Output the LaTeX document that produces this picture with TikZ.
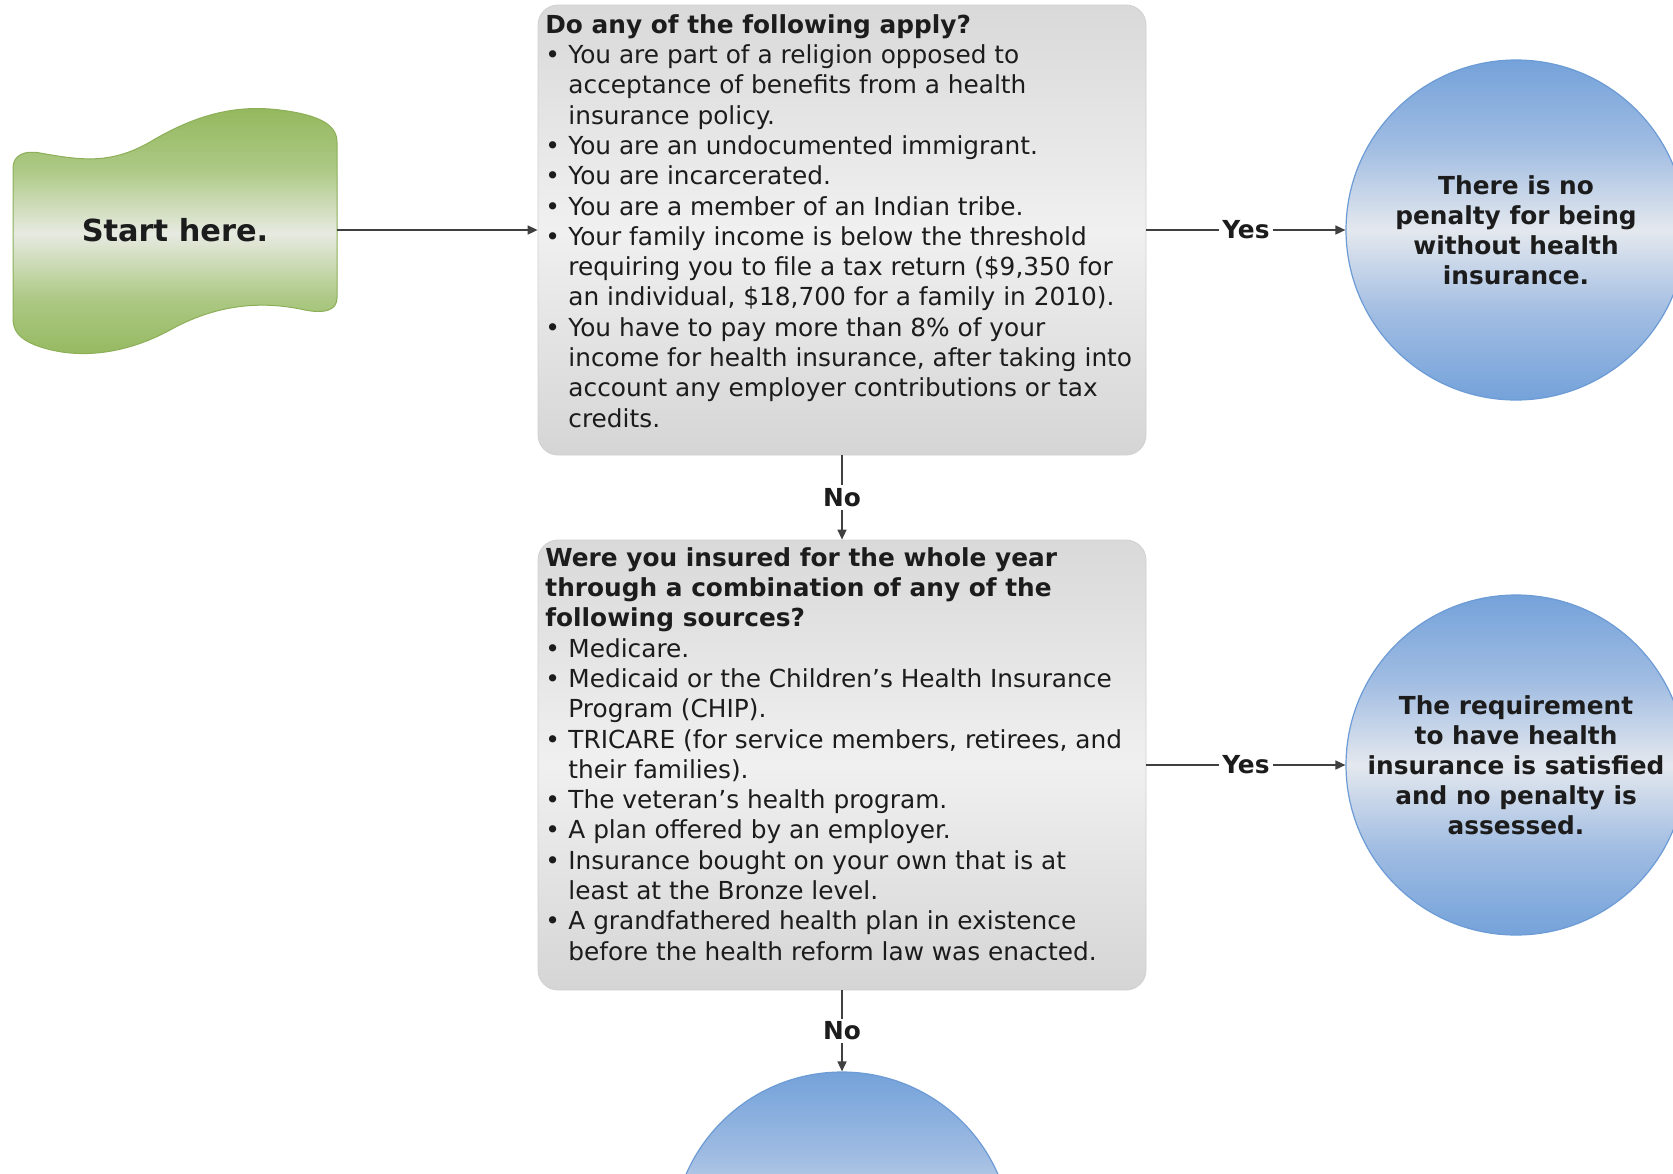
\documentclass[tikz,border=0pt]{standalone}
\usepackage{fontspec}
\setmainfont{DejaVu Sans}
\usetikzlibrary{arrows.meta}
\definecolor{gtop}{HTML}{93B75C}
\definecolor{gq}{HTML}{ADC985}
\definecolor{gmid}{HTML}{E7EAE1}
\definecolor{gborder}{HTML}{8CAF58}
\definecolor{boxtop}{HTML}{D9D9D9}
\definecolor{boxmid}{HTML}{F0F0F0}
\definecolor{boxbot}{HTML}{D5D5D5}
\definecolor{boxborder}{HTML}{D0D0D0}
\definecolor{btop}{HTML}{74A2DA}
\definecolor{bq}{HTML}{A0BCE2}
\definecolor{bmid}{HTML}{E4E8EE}
\definecolor{bborder}{HTML}{6C9BD5}
\definecolor{linec}{HTML}{404040}
\definecolor{textc}{HTML}{1C1C1C}
\pgfdeclareverticalshading{blueshade}{100bp}{color(0bp)=(btop); color(25bp)=(btop); color(37.5bp)=(bq); color(50bp)=(bmid); color(62.5bp)=(bq); color(75bp)=(btop); color(100bp)=(btop)}
\pgfdeclareverticalshading{greenshade}{100bp}{color(0bp)=(gtop); color(25bp)=(gtop); color(37.5bp)=(gq); color(50bp)=(gmid); color(62.5bp)=(gq); color(75bp)=(gtop); color(100bp)=(gtop)}
\newcommand{\bl}{\makebox[11.5pt][l]{\textbullet}}
\newcommand{\ct}{\hspace*{11.5pt}}
\begin{document}
\begin{tikzpicture}[x=0.5pt,y=-0.5pt,
  bodyfont/.style={font=\fontsize{12.4pt}{15.15pt}\selectfont},
  boldfont/.style={font=\bfseries\fontsize{12.4pt}{15pt}\selectfont},
  graybox/.style={rectangle, rounded corners=10pt, minimum width=304pt,
    draw=boxborder, line width=0.4pt, top color=boxtop, bottom color=boxbot, middle color=boxmid},
  boxtext/.style={bodyfont, text=textc, align=left, anchor=north west, inner sep=0pt},
  circ/.style={circle, minimum size=170pt, inner sep=0pt, draw=bborder, line width=0.6pt,
    shading=blueshade, shading angle=0, align=center, boldfont, text=textc},
  conn/.style={draw=linec, line width=0.8pt, -{Triangle[length=5pt,width=4.5pt]}},
  lbl/.style={boldfont, text=textc, fill=white, inner sep=1.5pt}]
\useasboundingbox (0,0) rectangle (1673,1173);
\clip (0,0) rectangle (1673,1173);

% start wave shape
\draw[draw=gborder, line width=0.5pt, shading=greenshade, shading angle=0]
  (13,168) .. controls (13,155) and (25,150) .. (40,153)
  .. controls (80,160) and (110,165) .. (150,142)
  .. controls (200,112) and (240,105) .. (280,110)
  .. controls (320,115) and (337,125) .. (337,142)
  -- (337,298)
  .. controls (337,310) and (325,314) .. (305,310)
  .. controls (260,300) and (215,305) .. (170,330)
  .. controls (130,352) and (80,362) .. (35,345)
  .. controls (18,338) and (13,330) .. (13,318) -- cycle;
\node[minimum width=162pt, minimum height=60pt, inner sep=0pt, text=textc,
  font=\bfseries\fontsize{15.2pt}{18pt}\selectfont] (start) at (175,230) {Start here.};

% boxes
\node[graybox, minimum height=225pt] (q1) at (842,230) {};
\node[boxtext] (q1t) at (545,14) {\textbf{Do any of the following apply?}\\
\bl You are part of a religion opposed to\\
\ct acceptance of benefits from a health\\
\ct insurance policy.\\
\bl You are an undocumented immigrant.\\
\bl You are incarcerated.\\
\bl You are a member of an Indian tribe.\\
\bl Your family income is below the threshold\\
\ct requiring you to file a tax return (\$9,350 for\\
\ct an individual, \$18,700 for a family in 2010).\\
\bl You have to pay more than 8\% of your\\
\ct income for health insurance, after taking into\\
\ct account any employer contributions or tax\\
\ct credits.};

\node[graybox, minimum height=225pt] (q2) at (842,765) {};
\node[boxtext] (q2t) at (545,547) {\textbf{Were you insured for the whole year}\\
\textbf{through a combination of any of the}\\
\textbf{following sources?}\\
\bl Medicare.\\
\bl Medicaid or the Children’s Health Insurance\\
\ct Program (CHIP).\\
\bl TRICARE (for service members, retirees, and\\
\ct their families).\\
\bl The veteran’s health program.\\
\bl A plan offered by an employer.\\
\bl Insurance bought on your own that is at\\
\ct least at the Bronze level.\\
\bl A grandfathered health plan in existence\\
\ct before the health reform law was enacted.};

% circles
\node[circ] (c1) at (1516,230) {There is no\\penalty for being\\without health\\insurance.};
\node[circ] (c2) at (1516,765) {The requirement\\to have health\\insurance is satisfied\\and no penalty is\\assessed.};
\node[circ] (c3) at (842,1242) {};

% connectors
\draw[conn] (start.east) -- (q1.west);
\draw[conn] (q1.east) -- node[lbl] {Yes} (c1.west);
\draw[conn] (q2.east) -- node[lbl] {Yes} (c2.west);
\draw[conn] (q1.south) -- node[lbl] {No} (q2.north);
\draw[conn] (q2.south) -- node[lbl] {No} (c3.north);
\end{tikzpicture}
\end{document}
